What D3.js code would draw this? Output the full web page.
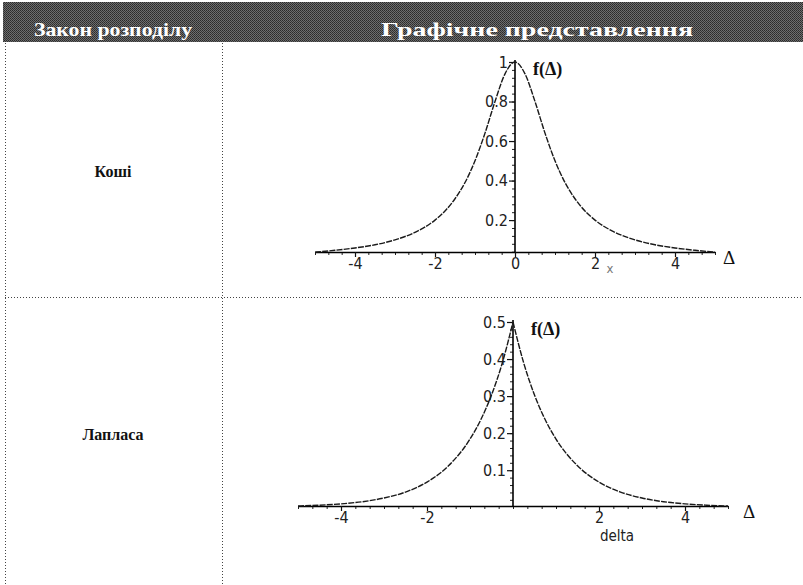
<!DOCTYPE html>
<html>
<head>
<meta charset="utf-8">
<script src="https://cdn.jsdelivr.net/npm/d3@7"></script>
<style>
  body { margin: 0; background: #fff; }
  svg { display: block; }
</style>
</head>
<body>
<div id="chart"></div>
<script>
// Table texts
var headers = ['Закон розподілу', 'Графічне представлення'];
var rowNames = ['Коші', 'Лапласа'];

// Cauchy curve
var cauchyX = [-5, -4.5, -4, -3.5, -3, -2.5, -2, -1.75, -1.5, -1.25, -1, -0.75, -0.5, -0.25, 0,
               0.25, 0.5, 0.75, 1, 1.25, 1.5, 1.75, 2, 2.5, 3, 3.5, 4, 4.5, 5];
var cauchyY = [0.038, 0.047, 0.059, 0.075, 0.10, 0.138, 0.20, 0.246, 0.308, 0.39, 0.50, 0.64, 0.80, 0.94, 1.0,
               0.94, 0.80, 0.64, 0.50, 0.39, 0.308, 0.246, 0.20, 0.138, 0.10, 0.075, 0.059, 0.047, 0.038];

// Laplace curve
var laplaceX = [-5, -4.5, -4, -3.5, -3, -2.5, -2, -1.5, -1, -0.75, -0.5, -0.25, 0,
                0.25, 0.5, 0.75, 1, 1.5, 2, 2.5, 3, 3.5, 4, 4.5, 5];
var laplaceY = [0.0034, 0.0056, 0.0092, 0.015, 0.025, 0.041, 0.068, 0.112, 0.184, 0.236, 0.303, 0.389, 0.5,
                0.389, 0.303, 0.236, 0.184, 0.112, 0.068, 0.041, 0.025, 0.015, 0.0092, 0.0056, 0.0034];

// ticks
var cauchyXTicks = [-4, -2, 0, 2, 4];
var cauchyYTicks = [0.2, 0.4, 0.6, 0.8, 1];
var laplaceXTicks = [-4, -2, 2, 4];
var laplaceYTicks = [0.1, 0.2, 0.3, 0.4, 0.5];

var width = 803, height = 585;
var svg = d3.select('#chart').append('svg')
    .attr('width', width)
    .attr('height', height);

// dithered header band
var pat = svg.append('defs').append('pattern')
    .attr('id', 'dither').attr('width', 2).attr('height', 2)
    .attr('patternUnits', 'userSpaceOnUse');
pat.append('rect').attr('width', 2).attr('height', 2).attr('fill', '#6e6e6e');
pat.append('rect').attr('width', 1).attr('height', 1).attr('fill', '#2a2a2a');
pat.append('rect').attr('x', 1).attr('y', 1).attr('width', 1).attr('height', 1).attr('fill', '#363636');

svg.append('rect')
    .attr('x', 3).attr('y', 2)
    .attr('width', 800).attr('height', 40)
    .attr('fill', 'url(#dither)');

var serif = '"Liberation Serif", "DejaVu Serif", serif';
var narrow = '"Liberation Sans Narrow", "DejaVu Sans Condensed", "Liberation Sans", Arial, sans-serif';

svg.selectAll('text.head')
    .data(headers)
    .enter().append('text')
    .attr('class', 'head')
    .attr('x', function(d, i) { return i ? 537 : 113; })
    .attr('y', 36)
    .attr('text-anchor', 'middle')
    .attr('textLength', function(d, i) { return i ? 312 : 158; })
    .attr('lengthAdjust', 'spacingAndGlyphs')
    .style('font-family', serif)
    .style('font-weight', 'bold')
    .style('font-size', '19px')
    .style('fill', '#fff')
    .text(function(d) { return d; });

// table grid, dotted
var grid = svg.append('g')
    .style('stroke', '#444')
    .style('stroke-width', 1)
    .style('stroke-dasharray', '1,2');
grid.append('line').attr('x1', 5.5).attr('x2', 5.5).attr('y1', 43).attr('y2', 585);
grid.append('line').attr('x1', 222.5).attr('x2', 222.5).attr('y1', 43).attr('y2', 585);
grid.append('line').attr('x1', 5).attr('x2', 803).attr('y1', 297.5).attr('y2', 297.5);

svg.selectAll('text.row')
    .data(rowNames)
    .enter().append('text')
    .attr('class', 'row')
    .attr('x', 113)
    .attr('y', function(d, i) { return i ? 440 : 177; })
    .attr('text-anchor', 'middle')
    .style('font-family', serif)
    .style('font-weight', 'bold')
    .style('font-size', '16px')
    .style('fill', '#111')
    .text(function(d) { return d; });

function drawPlot(opt) {
  var g = svg.append('g');
  var x = d3.scaleLinear().domain([-5, 5]).range(opt.xRange);
  var y = d3.scaleLinear().domain(opt.yDomain).range(opt.yRange);
  var axisY = y(opt.yDomain[0]);

  // minor ticks
  g.append('g')
      .attr('transform', 'translate(0,' + axisY + ')')
      .call(d3.axisBottom(x).tickValues(d3.range(-5, 5.01, 1 / 3)).tickSize(3).tickFormat(''))
      .call(function(a) { a.select('.domain').remove(); a.selectAll('line').attr('stroke', '#222'); });
  g.append('g')
      .attr('transform', 'translate(' + x(0) + ',0)')
      .call(d3.axisLeft(y).tickValues(d3.range(opt.yMinor, opt.yDomain[1] + 1e-6, opt.yMinor)).tickSize(3).tickFormat(''))
      .call(function(a) { a.select('.domain').remove(); a.selectAll('line').attr('stroke', '#222'); });

  // major ticks + labels (plain hyphen for negatives, as in the scan)
  var xa = g.append('g')
      .attr('transform', 'translate(0,' + axisY + ')')
      .call(d3.axisBottom(x).tickValues(opt.xTicks).tickSize(5).tickSizeOuter(0).tickPadding(1)
        .tickFormat(function(d) { return String(d); }));
  var ya = g.append('g')
      .attr('transform', 'translate(' + x(0) + ',0)')
      .call(d3.axisLeft(y).tickValues(opt.yTicks).tickSize(6).tickSizeOuter(0).tickPadding(1)
        .tickFormat(function(d) { return d === 1 ? '1' : d3.format('.1f')(d); }));
  [xa, ya].forEach(function(a) {
    a.select('.domain').attr('stroke', '#000').attr('stroke-width', 1.6);
    a.selectAll('line').attr('stroke', '#111').attr('stroke-width', 1.2);
    a.selectAll('text')
        .style('font-family', narrow)
        .style('font-size', '16px')
        .style('fill', '#222');
  });
  ya.select('.domain').attr('d', 'M0,' + axisY + 'V' + (y(opt.yDomain[1]) - 2));

  // curve, drawn in two halves so a cusp stays sharp
  var pts = opt.xs.map(function(v, i) { return [v, opt.ys[i]]; });
  var line = d3.line()
      .x(function(d) { return x(d[0]); })
      .y(function(d) { return y(d[1]); })
      .curve(d3.curveMonotoneX);
  var halves = [pts.filter(function(d) { return d[0] <= 0; }), pts.filter(function(d) { return d[0] >= 0; })];
  g.selectAll('path.curve')
      .data(opt.split ? halves : [pts])
      .enter().append('path')
      .attr('class', 'curve')
      .attr('d', line)
      .attr('fill', 'none')
      .attr('stroke', '#1a1a1a')
      .attr('stroke-width', 1.4)
      .attr('stroke-dasharray', '6,1.2');

  // labels
  g.append('text')
      .attr('x', x(0) + 18).attr('y', y(opt.yDomain[1]) + 13)
      .style('font-family', serif).style('font-weight', 'bold').style('font-size', '18px')
      .style('fill', '#111')
      .text('f(Δ)');
  g.append('text')
      .attr('x', opt.deltaX).attr('y', axisY + 12)
      .style('font-family', serif).style('font-size', '19px')
      .style('fill', '#111')
      .text('Δ');
  g.append('text')
      .attr('x', opt.varPos[0]).attr('y', opt.varPos[1])
      .attr('text-anchor', 'middle')
      .style('font-family', narrow).style('font-size', opt.varSize)
      .style('fill', opt.varColor)
      .text(opt.varName);
}

drawPlot({
  xs: cauchyX, ys: cauchyY, split: false,
  xRange: [315, 715], yDomain: [0.0385, 1], yRange: [252, 62],
  xTicks: cauchyXTicks, yTicks: cauchyYTicks, yMinor: 0.04,
  deltaX: 723, varName: 'x', varPos: [610, 273], varSize: '13px', varColor: '#777'
});

drawPlot({
  xs: laplaceX, ys: laplaceY, split: true,
  xRange: [298, 728], yDomain: [0.0034, 0.5], yRange: [506, 322],
  xTicks: laplaceXTicks, yTicks: laplaceYTicks, yMinor: 0.02,
  deltaX: 743, varName: 'delta', varPos: [617, 541], varSize: '15px', varColor: '#222'
});
</script>
</body>
</html>
